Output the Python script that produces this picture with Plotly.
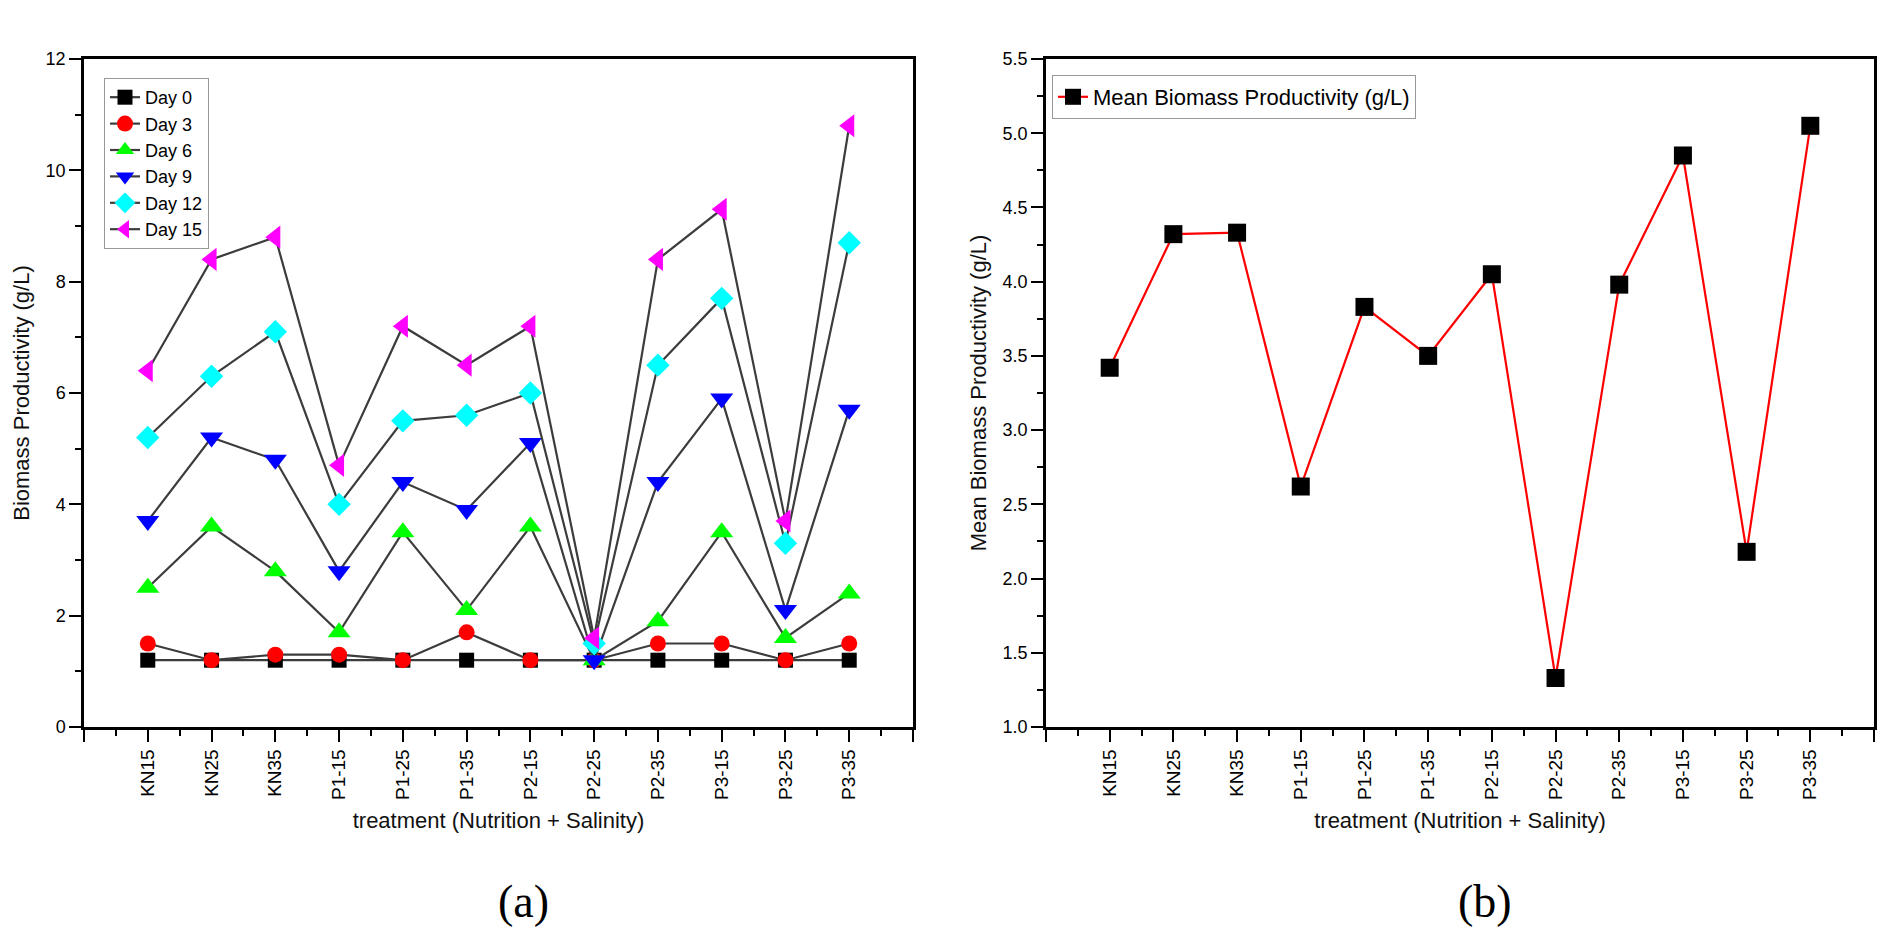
import plotly.graph_objects as go

treatments = ["KN15", "KN25", "KN35", "P1-15", "P1-25", "P1-35",
              "P2-15", "P2-25", "P2-35", "P3-15", "P3-25", "P3-35"]

day0 = [1.2, 1.2, 1.2, 1.2, 1.2, 1.2, 1.2, 1.2, 1.2, 1.2, 1.2, 1.2]
day3 = [1.5, 1.2, 1.3, 1.3, 1.2, 1.7, 1.2, 1.2, 1.5, 1.5, 1.2, 1.5]
day6 = [2.5, 3.6, 2.8, 1.7, 3.5, 2.1, 3.6, 1.2, 1.9, 3.5, 1.6, 2.4]
day9 = [3.7, 5.2, 4.8, 2.8, 4.4, 3.9, 5.1, 1.2, 4.4, 5.9, 2.1, 5.7]
day12 = [5.2, 6.3, 7.1, 4.0, 5.5, 5.6, 6.0, 1.5, 6.5, 7.7, 3.3, 8.7]
day15 = [6.4, 8.4, 8.8, 4.7, 7.2, 6.5, 7.2, 1.6, 8.4, 9.3, 3.7, 10.8]

mean_prod = [3.42, 4.32, 4.33, 2.62, 3.83, 3.50, 4.05, 1.33, 3.98, 4.85, 2.18, 5.05]

xs = list(range(len(treatments)))

series = [
    ("Day 0", day0, "square", "#000000", 15),
    ("Day 3", day3, "circle", "#ff0000", 16),
    ("Day 6", day6, "triangle-up", "#00ff00", 20),
    ("Day 9", day9, "triangle-down", "#0000ff", 20),
    ("Day 12", day12, "diamond", "#00ffff", 18),
    ("Day 15", day15, "triangle-left", "#ff00ff", 20),
]

fig = go.Figure()

for name, vals, sym, col, sz in series:
    fig.add_trace(go.Scatter(
        x=xs, y=vals, name=name, mode="lines+markers",
        line=dict(color="#3c3c3c", width=2.2),
        marker=dict(symbol=sym, color=col, size=sz, line=dict(width=0)),
        xaxis="x", yaxis="y", legend="legend",
    ))

fig.add_trace(go.Scatter(
    x=xs, y=mean_prod, name="Mean Biomass Productivity (g/L)",
    mode="lines+markers",
    line=dict(color="#ff0000", width=2.2),
    marker=dict(symbol="square", color="#000000", size=18, line=dict(width=0)),
    xaxis="x2", yaxis="y2", legend="legend2",
))

font = "Liberation Sans, Arial, sans-serif"

xcommon = dict(
    range=[-1, 12],
    tickmode="array",
    tickvals=list(range(-1, 13)),
    ticktext=[""] + treatments + [""],
    tickangle=-90,
    ticks="outside", ticklen=12, tickwidth=2.2, tickcolor="black",
    minor=dict(tick0=-0.5, dtick=1, ticks="outside", ticklen=6,
               tickwidth=2.2, tickcolor="black"),
    showline=True, linewidth=2.5, linecolor="black", mirror=True,
    showgrid=False, zeroline=False, automargin=False,
    tickfont=dict(family=font, size=19, color="black"),
    title=dict(text="treatment (Nutrition + Salinity)",
               font=dict(family=font, size=22, color="#111"), standoff=14),
)
ycommon = dict(
    ticks="outside", ticklen=12, tickwidth=2.2, tickcolor="black",
    showline=True, linewidth=2.5, linecolor="black", mirror=True,
    showgrid=False, zeroline=False, automargin=False,
    tickfont=dict(family=font, size=18, color="black"),
)

fig.update_layout(
    width=1901, height=946,
    margin=dict(l=0, r=0, t=0, b=0, autoexpand=False),
    paper_bgcolor="white", plot_bgcolor="white",
    xaxis=dict(domain=[84 / 1901, 913 / 1901], anchor="y", **xcommon),
    xaxis2=dict(domain=[1046 / 1901, 1874 / 1901], anchor="y2", **xcommon),
    yaxis=dict(domain=[1 - 727 / 946, 1 - 59 / 946], anchor="x",
               range=[0, 12], tickmode="linear", tick0=0, dtick=2,
               minor=dict(dtick=1, ticks="outside", ticklen=6, tickwidth=2.2,
                          tickcolor="black"),
               title=dict(text="Biomass Productivity (g/L)",
                          font=dict(family=font, size=22, color="#111"),
                          standoff=10),
               **ycommon),
    yaxis2=dict(domain=[1 - 727 / 946, 1 - 59 / 946], anchor="x2",
                range=[1, 5.5], tickmode="linear", tick0=1, dtick=0.5,
                tickformat=".1f",
                minor=dict(dtick=0.25, ticks="outside", ticklen=6,
                           tickwidth=2.2, tickcolor="black"),
                title=dict(text="Mean Biomass Productivity (g/L)",
                           font=dict(family=font, size=22, color="#111"),
                           standoff=10),
                **ycommon),
    legend=dict(x=104 / 1901, y=1 - 78 / 946, xanchor="left", yanchor="top",
                bgcolor="white", bordercolor="#999", borderwidth=1,
                font=dict(family=font, size=18, color="black"),
                tracegroupgap=0),
    legend2=dict(x=1052 / 1901, y=1 - 75 / 946, xanchor="left", yanchor="top",
                 bgcolor="white", bordercolor="#999", borderwidth=1,
                 font=dict(family=font, size=22, color="black")),
    annotations=[
        dict(text="(a)", x=523 / 1901, y=1 - 901 / 946, xref="paper",
             yref="paper", showarrow=False, xanchor="center", yanchor="middle",
             font=dict(family="Liberation Serif, Times New Roman, serif",
                       size=46, color="black")),
        dict(text="(b)", x=1485 / 1901, y=1 - 901 / 946, xref="paper",
             yref="paper", showarrow=False, xanchor="center", yanchor="middle",
             font=dict(family="Liberation Serif, Times New Roman, serif",
                       size=46, color="black")),
    ],
)

fig.write_html("out.html", config={"displayModeBar": False},
               post_script="document.body.style.margin='0';")
